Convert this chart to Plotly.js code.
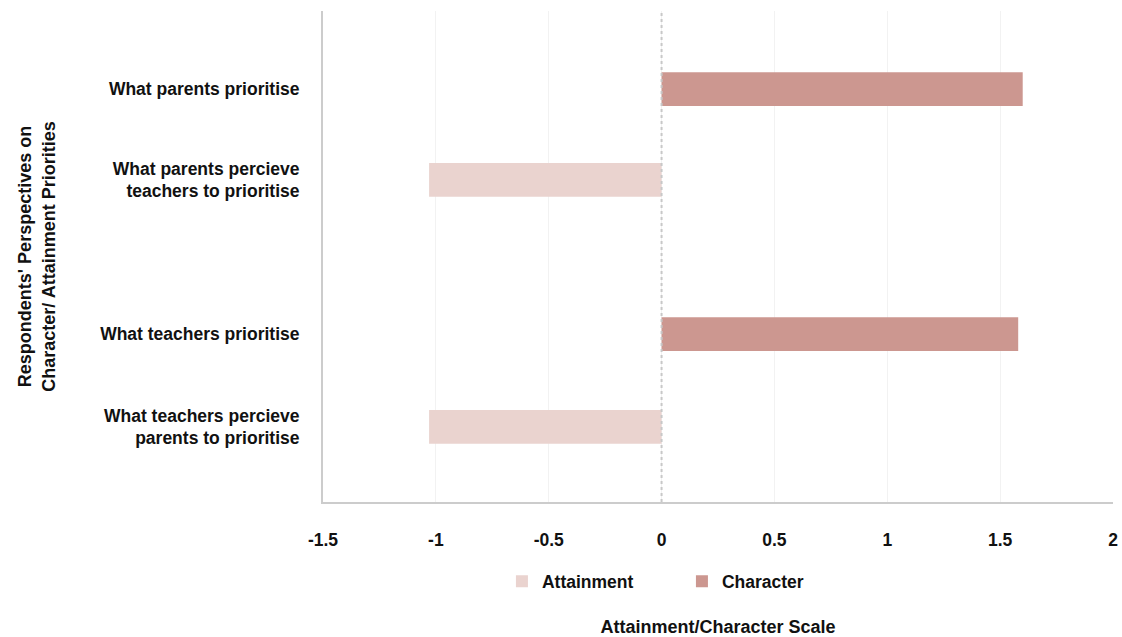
<!DOCTYPE html>
<html>
<head>
<meta charset="utf-8">
<script src="https://cdn.plot.ly/plotly-3.0.1.min.js"></script>
<style>html,body{margin:0;padding:0;background:#fff;}#chart{width:1122px;height:637px;}</style>
</head>
<body>
<div id="chart"></div>
<script>
// ---- data ----
const categories = [
  "What parents prioritise",
  "What parents percieve<br>teachers to prioritise",
  "What teachers prioritise",
  "What teachers percieve<br>parents to prioritise"
];
const attainmentValues = [null, -1.03, null, -1.03];
const characterValues = [1.6, null, 1.58, null];
const xTickVals = [-1.5, -1, -0.5, 0, 0.5, 1, 1.5, 2];
const xTickText = ["-1.5", "-1", "-0.5", "0", "0.5", "1", "1.5", "2"];

// ---- layout config (row placement on a numeric y scale) ----
const rowPos = [8.41, 6.56, 3.42, 1.53];

const fam = "Liberation Sans, Arial, sans-serif";
const font = {family: fam, size: 17.5, color: "#111", weight: "bold"};
const titleFont = {family: fam, size: 18, color: "#111", weight: "bold"};

const traces = [
  {type: "bar", orientation: "h", name: "Attainment", x: attainmentValues, y: rowPos,
   width: 0.69, marker: {color: "#ead3cf"}, hoverinfo: "x"},
  {type: "bar", orientation: "h", name: "Character", x: characterValues, y: rowPos,
   width: 0.69, marker: {color: "#cc9790"}, hoverinfo: "x"}
];

const layout = {
  width: 1122, height: 637,
  margin: {l: 323, r: 9, t: 11, b: 135},
  paper_bgcolor: "#fff", plot_bgcolor: "#fff",
  font: font,
  barmode: "overlay",
  showlegend: true,
  legend: {orientation: "h", x: 0.2265, xanchor: "left", y: -0.125, yanchor: "top",
           font: font, entrywidth: 135, entrywidthmode: "pixels"},
  xaxis: {
    range: [-1.5, 2], tickvals: xTickVals, ticktext: xTickText,
    showgrid: true, gridcolor: "#f2f2f2", gridwidth: 1,
    zeroline: false, showline: true, linecolor: "#cccccc", linewidth: 2,
    ticks: "", ticklabelstandoff: 21, tickfont: font,
    title: {text: "Attainment/Character Scale", font: titleFont, standoff: 78}
  },
  yaxis: {
    range: [0, 10], tickvals: rowPos, ticktext: categories,
    showgrid: false, zeroline: false, showline: true, linecolor: "#cccccc", linewidth: 2,
    ticks: "", ticklabelstandoff: 18, tickfont: font,
    title: {text: "Respondents' Perspectives on<br>Character/ Attainment Priorities", font: titleFont, standoff: 40}
  },
  shapes: [
    {type: "line", xref: "x", yref: "paper", x0: 0, x1: 0, y0: 0, y1: 1,
     line: {color: "#c8c8c8", width: 2, dash: "dot"}, layer: "above"}
  ]
};

Plotly.newPlot("chart", traces, layout, {displayModeBar: false, staticPlot: true});
</script>
</body>
</html>
